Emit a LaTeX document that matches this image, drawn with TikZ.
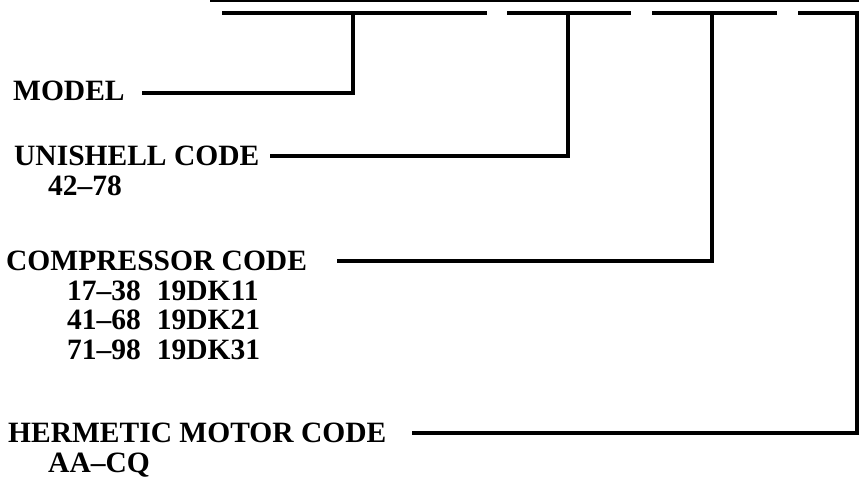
\documentclass[tikz,border=0pt]{standalone}
\usepackage{fontspec}
\setmainfont{Liberation Serif}
\usepackage{tikz}

\begin{document}
\begin{tikzpicture}[x=1pt,y=-1pt,
  lbl/.style={anchor=base west,inner sep=0pt,font=\fontsize{29.5}{30}\selectfont\bfseries},
  lead/.style={line width=3.2pt,line join=miter},
  seg/.style={line width=4pt}]
\useasboundingbox (0,0) rectangle (859,481);
\draw[line width=2.4pt] (210,1.2) -- (859,1.2);
\foreach \a/\b in {222/487, 507/631, 652/777, 798/859}
  \draw[seg] (\a,13.5) -- (\b,13.5);

\coordinate (tapA) at (353,12);
\coordinate (tapB) at (568,12);
\coordinate (tapC) at (712,12);
\coordinate (tapD) at (857,12);

\node[lbl] (model) at (13,101) {MODEL};
\node[lbl] (uni) at (14,166) {UNISHELL CODE};
\node[lbl] (unia) at (48,196) {42--78};
\node[lbl] (cmp) at (6,270) {COMPRESSOR CODE};
\node[lbl] (cmpa) at (67,300) {17--38\hspace{16pt}19DK11};
\node[lbl] (cmpb) at (67,329.5) {41--68\hspace{16pt}19DK21};
\node[lbl] (cmpc) at (67,359) {71--98\hspace{16pt}19DK31};
\node[lbl] (mot) at (8,442) {HERMETIC MOTOR CODE};
\node[lbl] (mota) at (48,472) {AA--CQ};

\coordinate (modelL) at (142,93);
\coordinate (uniL) at (270,156);
\coordinate (cmpL) at (337,261);
\coordinate (motL) at (412,433);

\draw[lead] (modelL) -| (tapA);
\draw[lead] (uniL) -| (tapB);
\draw[lead] (cmpL) -| (tapC);
\draw[lead] (motL) -| (tapD);
\end{tikzpicture}
\end{document}
